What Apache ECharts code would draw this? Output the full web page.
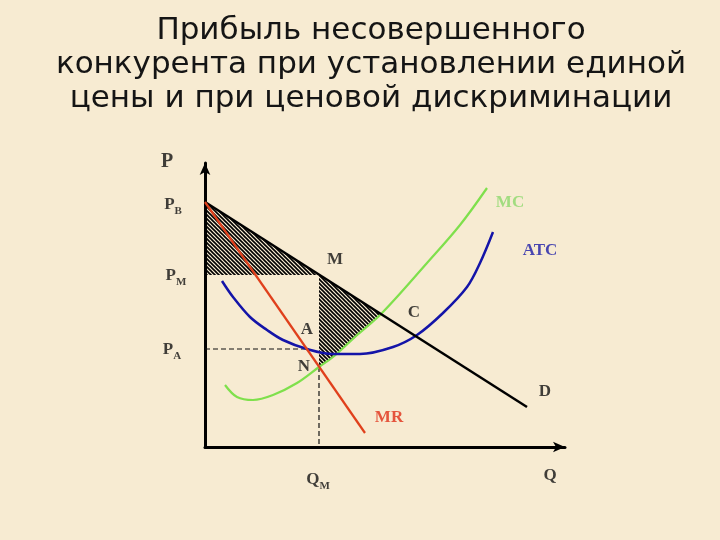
<!DOCTYPE html>
<html>
<head>
<meta charset="utf-8">
<script src="https://cdn.jsdelivr.net/npm/echarts@6/dist/echarts.min.js"></script>
<style>
html, body { margin: 0; padding: 0; background: #f7ebd2; }
#chart { width: 720px; height: 540px; }
</style>
</head>
<body>
<div id="chart"></div>
<script>
// кривые спроса / издержек (Q, P)
var demandCurve = [[0, 24.5], [32.2, 4.0]];
var mrCurve = [[0, 24.5], [16.0, 1.4]];
var atcCurve = [[1.7, 16.6], [2.8, 15.0], [4.5, 13.0], [6.2, 11.7], [7.8, 10.7], [10.2, 9.8],
	[12.8, 9.3], [15.5, 9.3], [18.8, 10.0], [21.2, 11.2], [23.8, 13.4], [26.2, 16.0], [27.5, 18.4], [28.8, 21.5]];
var mcCurve = [[2.0, 6.2], [3.2, 5.0], [4.8, 4.7], [6.8, 5.2], [9.2, 6.4], [11.4, 8.0], [12.8, 9.0],
	[15.0, 11.0], [17.7, 13.4], [22.2, 18.4], [25.5, 22.2], [28.2, 25.9]];

// заштрихованные области прибыли
var hatchTriangle = [[0, 24.5], [0, 17.2], [11.4, 17.2]];
var hatchRight = [[11.4, 17.2], [11.4, 8.0], [12.8, 9.0], [15.0, 11.0], [17.6, 13.3]];

// пунктир
var paLine = [[0, 9.8], [10.2, 9.8]];
var qmLine = [[11.4, 8.0], [11.4, 0]];

// подписи
var labelNames = ['P', 'PB', 'PM', 'PA', 'M', 'A', 'C', 'N', 'D', 'MR', 'MC', 'ATC', 'QM', 'Q'];
var labelCoords = [[-3.8, 28.5], [-3.2, 24.2], [-2.9, 17.1], [-3.3, 9.7], [13.0, 18.7], [10.2, 11.7],
	[20.9, 13.4], [9.9, 8.0], [34.0, 5.5], [18.4, 2.9], [30.5, 24.4], [33.5, 19.6], [11.3, -3.3], [34.5, -2.9]];

var titleText = 'Прибыль несовершенного\nконкурента при установлении единой\nцены и при ценовой дискриминации';

// штриховка
var hatch = document.createElement('canvas');
hatch.width = 4; hatch.height = 4;
var hctx = hatch.getContext('2d');
hctx.strokeStyle = '#000';
hctx.lineWidth = 1.6;
[-4, 0, 4].forEach(function(o){
	hctx.beginPath();
	hctx.moveTo(o - 1, -1);
	hctx.lineTo(o + 5, 5);
	hctx.stroke();
});

var labelColors = {MR: '#e03018', MC: '#8cd86c', ATC: '#1c1ca8'};
var subs = {PB: 'B', PM: 'M', PA: 'A', QM: 'M'};
var labelData = labelNames.map(function(n, i){
	var txt = subs[n] ? '{p|' + n.charAt(0) + '}{s|' + subs[n] + '}' : '{p|' + n + '}';
	return {
		value: labelCoords[i],
		label: {
			formatter: txt,
			rich: {
				p: {fontSize: n == 'P' ? 20 : 17, lineHeight: 24, fontFamily: 'Liberation Serif', fontWeight: 'bold', color: labelColors[n] || '#111'},
				s: {fontSize: 11, lineHeight: 12, verticalAlign: 'bottom', fontFamily: 'Liberation Serif', fontWeight: 'bold', color: '#111'}
			}
		}
	};
});

var myChart = echarts.init(document.getElementById('chart'));
var polys = [hatchTriangle, hatchRight];
var option = {
	backgroundColor: '#f7ebd2',
	animation: false,
	title: {
		text: titleText,
		left: 366,
		top: 9,
		textAlign: 'center',
		textStyle: {fontFamily: 'DejaVu Sans', fontSize: 31, fontWeight: 'normal', lineHeight: 34, color: '#151515', align: 'center'}
	},
	grid: {left: 205, top: 163, width: 360, height: 284},
	xAxis: {
		type: 'value', min: 0, max: 36,
		axisLine: {show: true, onZero: false, symbol: ['none', 'arrow'], symbolSize: [8, 12], lineStyle: {color: '#000', width: 3}},
		axisTick: {show: false}, axisLabel: {show: false}, splitLine: {show: false}
	},
	yAxis: {
		type: 'value', min: 0, max: 28.4,
		axisLine: {show: true, onZero: false, symbol: ['none', 'arrow'], symbolSize: [8, 12], lineStyle: {color: '#000', width: 3}},
		axisTick: {show: false}, axisLabel: {show: false}, splitLine: {show: false}
	},
	series: [
		{
			type: 'custom',
			data: [[0], [1]],
			silent: true,
			z: 1,
			renderItem: function(params, api){
				var pts = polys[params.dataIndex].map(function(p){ return api.coord(p); });
				return {type: 'polygon', shape: {points: pts}, style: {fill: {image: hatch, repeat: 'repeat'}, stroke: null}};
			}
		},
		{type: 'line', data: paLine, symbol: 'none', z: 2, lineStyle: {color: '#111', width: 1.2, type: [5, 3]}},
		{type: 'line', data: qmLine, symbol: 'none', z: 2, lineStyle: {color: '#111', width: 1.2, type: [5, 3]}},
		{type: 'line', data: mcCurve, smooth: 0.35, symbol: 'none', z: 3, lineStyle: {color: '#7fe04c', width: 2.2}},
		{type: 'line', data: atcCurve, smooth: 0.35, symbol: 'none', z: 3, lineStyle: {color: '#1414a8', width: 2.5}},
		{type: 'line', data: demandCurve, symbol: 'none', z: 4, lineStyle: {color: '#000', width: 2.5}},
		{type: 'line', data: mrCurve, symbol: 'none', z: 4, lineStyle: {color: '#e0401c', width: 2.2}},
		{
			type: 'scatter', data: labelData, symbolSize: 0, clip: false, z: 5, silent: true,
			label: {show: true, position: 'inside'}
		}
	]
};
myChart.setOption(option);
</script>
</body>
</html>
